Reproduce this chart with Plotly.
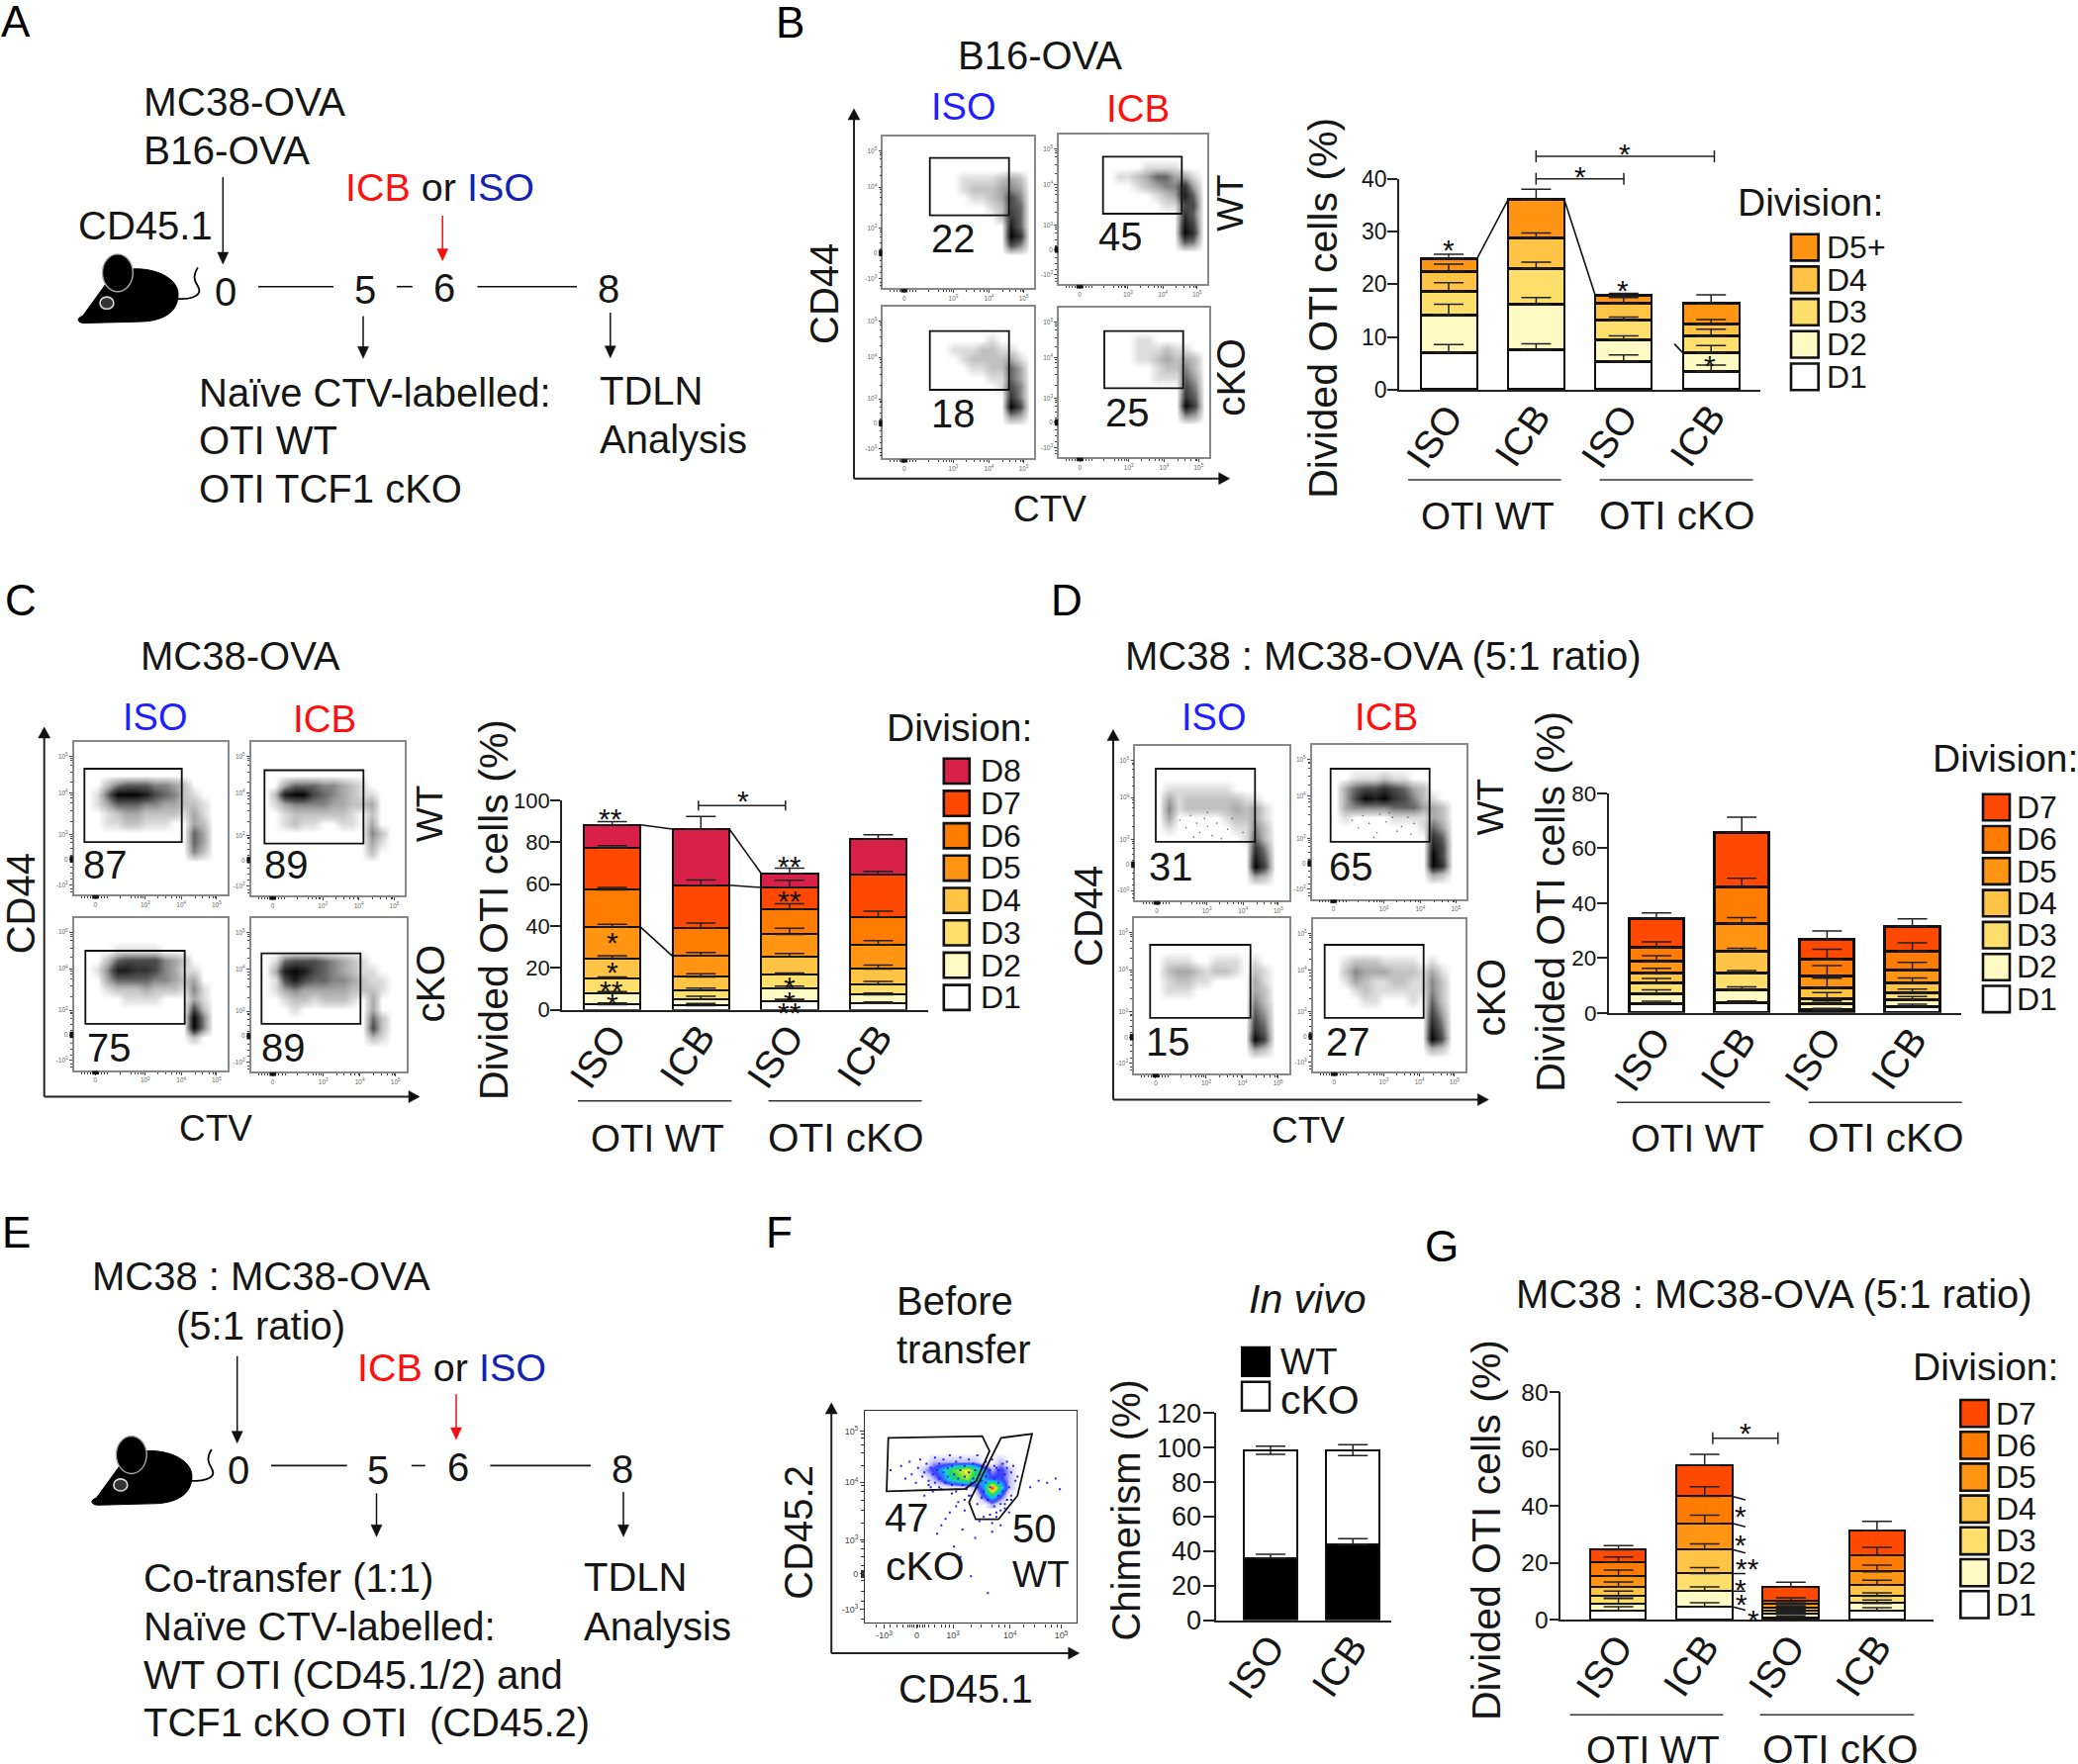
import plotly.graph_objects as go

W, H = 2100, 1783
FONT = "Liberation Sans"

# ---------- data: cumulative segment tops, D1 upward ----------
CONDITIONS = ["ISO", "ICB", "ISO", "ICB"]
POS4 = [0, 1, 2, 3]

B_DIV = ["D1", "D2", "D3", "D4", "D5+"]
B_TOPS = [[7.0, 14.2, 18.7, 22.4, 24.8],
          [7.5, 16.2, 23.0, 28.8, 36.0],
          [5.4, 9.5, 13.1, 16.3, 17.8],
          [3.5, 7.0, 10.1, 12.5, 16.3]]
B_ERR = [[8.6, 16.2, 20.3, 23.8, 25.7],
         [8.7, 17.5, 24.2, 29.7, 38.0],
         [6.6, 10.2, 13.8, 17.5, 18.3],
         [4.7, 8.4, 11.5, 13.3, 18.0]]

C_DIV = ["D1", "D2", "D3", "D4", "D5", "D6", "D7", "D8"]
C_TOPS = [[2.5, 7.9, 14.8, 24.6, 39.5, 57.3, 77.2, 88.3],
          [2.0, 4.9, 9.3, 15.7, 25.7, 39.2, 59.5, 86.3],
          [4.3, 10.1, 16.7, 25.4, 36.0, 47.9, 58.4, 65.2],
          [3.1, 7.2, 12.1, 19.5, 31.2, 44.4, 64.7, 81.6]]
C_ERR = [[3.3, 8.7, 15.7, 25.8, 40.8, 58.4, 78.4, 89.9],
         [3.0, 6.5, 10.4, 17.2, 27.4, 41.4, 62.0, 92.3],
         [5.0, 11.3, 17.6, 26.9, 39.0, 50.6, 61.9, 67.6],
         [3.8, 8.0, 13.5, 21.3, 33.1, 47.1, 66.1, 83.6]]

D_DIV = ["D1", "D2", "D3", "D4", "D5", "D6", "D7"]
D_TOPS = [[3.1, 7.0, 10.7, 14.3, 18.7, 23.7, 34.1],
          [3.5, 8.3, 14.3, 22.2, 32.6, 45.8, 65.7],
          [1.0, 3.1, 5.2, 9.1, 13.3, 19.3, 26.5],
          [2.2, 4.7, 7.2, 10.7, 15.6, 22.5, 31.4]]
D_ERR = [[4.2, 8.4, 12.5, 16.2, 20.8, 25.8, 36.4],
         [4.3, 9.4, 15.4, 23.5, 34.7, 49.0, 71.2],
         [1.6, 4.3, 7.4, 12.6, 17.2, 23.1, 29.8],
         [3.1, 5.9, 8.6, 12.7, 18.4, 25.5, 34.2]]

G_DIV = ["D1", "D2", "D3", "D4", "D5", "D6", "D7"]
G_TOPS = [[3.2, 5.7, 8.2, 11.5, 15.3, 20.2, 24.6],
          [4.6, 10.1, 16.3, 24.7, 33.9, 43.4, 54.3],
          [0.8, 2.0, 3.1, 4.3, 5.4, 6.6, 11.5],
          [3.2, 5.8, 8.3, 12.2, 16.9, 22.7, 31.4]]
G_ERR = [[4.6, 7.5, 10.1, 13.3, 17.5, 22.1, 26.1],
         [6.0, 11.6, 18.4, 26.7, 36.8, 46.8, 58.2],
         [1.4, 2.6, 3.7, 4.9, 6.0, 7.8, 13.2],
         [4.3, 7.0, 9.5, 13.9, 19.2, 25.5, 34.6]]

F_COND = ["ISO", "ICB"]
F_POS = [0, 1]
F_WT = [35.9, 44.0]
F_TOTAL = [98.4, 98.4]
F_WT_ERR_TOP = [38.2, 47.2]
F_TOTAL_ERR_TOP = [100.9, 101.7]
F_TOTAL_ERR_BOTTOM = [96.1, 95.4]

_0 = "0" * 16
FLOW_B = [
 [_0,_0,_0,_0,"0000000011112320","0000000012223430","0000000001123640","0000000000012650","0000000000002750","0000000000000850","0000000000000970","0000000000000640",_0,_0,_0,_0],
 [_0,_0,_0,"0000000001111000","0000001123553310","0000000012344730","0000000000123850","0000000000011660","0000000000000750","0000000000000860","0000000000000970","0000000000000540",_0,_0,_0,_0],
 [_0,_0,_0,"0000000000010000","0000000111221100","0000000012222310","0000000001122530","0000000000011530","0000000000001640","0000000000000740","0000000000000960","0000000000000430",_0,_0,_0,_0],
 [_0,_0,_0,"0000000011000000","0000000011121100","0000000011232320","0000000000122420","0000000000111530","0000000000000640","0000000000000750","0000000000000960","0000000000000430",_0,_0,_0,_0],
]
FLOW_C = [
 [_0,_0,_0,_0,"0002455544320000","0015999865421000","0013555443322100","0001233222213100","0001122111003200","0000000000005300","0000000000005300","0000000000004200",_0,_0,_0,_0],
 [_0,_0,_0,_0,"0003555443210000","0028996543211000","0013444433223000","0001222222102000","0001211001103000","0000000000004200","0000000000003100","0000000000002000",_0,_0,_0,_0],
 [_0,_0,_0,"0000111110000000","0002566664320000","0014887764311000","0003555544323000","0001222322214100","0000011110003100","0000000000006200","0000000000009400","0000000000009400","0000000000002000",_0,_0,_0],
 [_0,_0,_0,_0,"0015666543210000","0038986543211000","0016865544321100","0013433333222100","0001221222103000","0000100000003000","0000000000005200","0000000000006200","0000000000002100",_0,_0,_0],
]
FLOW_D = [
 [_0,_0,_0,_0,"0001111111000000","0003122222211000","0004122222323100","0003000001223100","0001000000114200","0000000000015200","0000000000007400","0000000000008500","0000000000009600","0000000000003200",_0,_0],
 [_0,_0,_0,"0000111211000000","0003566765320000","0003698976421000","0003444455533200","0001000011113200","0000000000015300","0000000000007500","0000000000008600","0000000000009600","0000000000009700","0000000000003200",_0,_0],
 [_0,_0,_0,_0,"0001110011101000","0002332122102100","0001221100003100","0001110000003200","0000000000004200","0000000000005300","0000000000006400","0000000000007500","0000000000009600","0000000000003200",_0,_0],
 [_0,_0,_0,_0,"0001222111101000","0002433322213100","0001321122114200","0000121111114200","0000011000105200","0000000000006300","0000000000007400","0000000000008500","0000000000009600","0000000000003200",_0,_0],
]
FLOW_B_PCT = ["22", "45", "18", "25"]
FLOW_C_PCT = ["87", "89", "75", "89"]
FLOW_D_PCT = ["31", "65", "15", "27"]
D1_SPECK_X = [.29,.33,.36,.40,.42,.45,.47,.50,.53,.56,.60,.63,.66,.70,.38,.47]
D1_SPECK_Y = [.52,.47,.55,.50,.44,.53,.48,.42,.50,.40,.46,.53,.38,.44,.41,.57]
D2_SPECK_X = [.26,.30,.33,.37,.42,.44,.48,.50,.55,.58,.62,.64,.66,.40,.52]
D2_SPECK_Y = [.51,.46,.54,.49,.43,.55,.50,.56,.44,.47,.53,.42,.49,.40,.53]

FLOW_F_GRID = ["0000000000000000", "0000111111001000", "0001235675312100", "0000124564322100",
               "0000000001394100", "0000000000242000", "0000000000010000"]
FLOW_F_X = [.12,.17,.19,.21,.22,.24,.25,.26,.27,.28,.29,.30,.31,.31,.32,.33,.33,.34,.35,.35,.36,.37,.37,.38,.39,.39,.40,.41,.41,.42,.43,.43,.44,.45,.45,.46,.47,.47,.48,.49,.49,.50,.51,.51,.52,.53,.53,.54,.55,.55,.56,.57,.57,.58,.59,.59,.60,.61,.61,.62,.63,.63,.64,.65,.65,.66,.67,.67,.68,.69,.69,.70,.71,.72,.66,.62,.56,.53,.50,.47,.44,.40,.36,.34,.38,.46,.52,.60,.64,.78,.82,.86,.90,.92,.42,.45,.50,.58,.28,.32,.43,.47,.54,.60,.62,.64,.66,.68,.30,.35,.41,.49,.55,.59,.63,.67,.69,.61,.57]
FLOW_F_Y = [.72,.74,.68,.76,.70,.66,.73,.77,.69,.71,.75,.67,.73,.64,.70,.78,.66,.72,.75,.68,.63,.71,.77,.66,.73,.69,.79,.65,.74,.70,.76,.62,.68,.72,.78,.65,.74,.69,.63,.77,.71,.66,.75,.68,.72,.64,.79,.70,.67,.74,.62,.76,.69,.58,.72,.64,.77,.55,.68,.73,.60,.66,.56,.75,.62,.70,.58,.76,.64,.71,.60,.74,.67,.69,.54,.52,.50,.56,.60,.58,.57,.52,.46,.42,.49,.44,.40,.47,.53,.64,.67,.66,.68,.63,.36,.31,.22,.14,.60,.62,.55,.53,.48,.43,.50,.46,.56,.52,.65,.64,.61,.60,.59,.51,.72,.73,.58,.74,.66]

# ---------- styles ----------
DIV_COLORS = {"D1": "#ffffff", "D2": "#fff9c4", "D3": "#ffdf6b", "D4": "#ffc445", "D5": "#ff9513",
              "D5+": "#ff9513", "D6": "#ff7c00", "D7": "#ff4800", "D8": "#d92049"}
BLUE, RED = "#1f1fff", "#ff1010"
DARKBLUE = "#1322b4"
TXT = 40
INK = "#161616"

fig = go.Figure()
shapes, anns = [], []
axis_no = [0]

def px(x): return x / W
def py(y): return 1 - y / H

def T(text, x, y, size=TXT, anchor="center", color=INK, angle=0, italic=False):
    anns.append(dict(text=f"<i>{text}</i>" if italic else text, x=px(x), y=py(y), xref="paper", yref="paper",
                     xanchor=anchor, yanchor="middle", showarrow=False, textangle=angle,
                     font=dict(family=FONT, size=size, color=color), borderpad=0))

def line(x0, y0, x1, y1, color="#111", w=1.6):
    shapes.append(dict(type="line", xref="paper", yref="paper", x0=px(x0), y0=py(y0), x1=px(x1), y1=py(y1),
                       line=dict(color=color, width=w)))

def poly(pts, color="#111", fill="rgba(0,0,0,0)", w=1.6, closed=True):
    d = "M" + " L".join(f"{px(a):.5f},{py(b):.5f}" for a, b in pts) + (" Z" if closed else "")
    shapes.append(dict(type="path", xref="paper", yref="paper", path=d, fillcolor=fill, line=dict(color=color, width=w)))

def rect(x0, y0, x1, y1, color="#111", fill="rgba(0,0,0,0)", w=1.8):
    shapes.append(dict(type="rect", xref="paper", yref="paper", x0=px(x0), y0=py(y0), x1=px(x1), y1=py(y1),
                       fillcolor=fill, line=dict(color=color, width=w)))

def arrow_down(x, y0, y1, color="#111"):
    line(x, y0, x, y1 - 10, color, 1.5)
    poly([(x - 5.5, y1 - 12), (x + 5.5, y1 - 12), (x, y1)], color=color, fill=color, w=0.5)

def flow_arrows(xa, ybottom, ytop, xright):
    line(xa, ybottom, xa, ytop + 8, "#222", 2)
    line(xa, ybottom, xright - 8, ybottom, "#222", 2)
    poly([(xa - 6, ytop + 11), (xa + 6, ytop + 11), (xa, ytop)], fill="#111", w=0.5)
    poly([(xright - 11, ybottom - 6), (xright - 11, ybottom + 6), (xright, ybottom)], fill="#111", w=0.5)

def new_axes(x0, y0, x1, y1, xa, ya):
    axis_no[0] += 1
    n = axis_no[0]
    s = "" if n == 1 else str(n)
    fig.layout[f"xaxis{s}"] = dict(domain=[px(x0), px(x1)], anchor=f"y{s}", **xa)
    fig.layout[f"yaxis{s}"] = dict(domain=[py(y1), py(y0)], anchor=f"x{s}", **ya)
    return f"x{s}", f"y{s}"

def star(x, y, s="*", size=30):
    T(s, x, y + 5.5, size=size, color="#111")

def bracket(x0, x1, y, cap=6):
    line(x0, y, x1, y, "#222", 1.5)
    line(x0, y - cap, x0, y + cap, "#222", 1.5)
    line(x1, y - cap, x1, y + cap, "#222", 1.5)

# ---------- stacked bar panels ----------
def bar_panel(tops, errs, divs, left, right, y0, ytop, ymax, dtick, c0, step, bw, tick_size, ecap=15):
    xr = [(left - c0) / step, (right - c0) / step]
    xa_, ya_ = new_axes(left, ytop, right, y0,
        dict(range=xr, tickmode="array", tickvals=POS4, ticktext=CONDITIONS, tickangle=-55, ticks="", ticklabelstandoff=-13,
             showgrid=False, zeroline=False, showline=True, linecolor="#222", linewidth=1.6,
             tickfont=dict(family=FONT, size=39, color=INK)),
        dict(range=[0, ymax], dtick=dtick, ticks="outside", ticklen=10, tickwidth=1.6, tickcolor="#222", ticklabelstandoff=-4,
             showgrid=False, zeroline=False, showline=True, linecolor="#222", linewidth=1.6,
             tickfont=dict(family=FONT, size=tick_size, color=INK)))
    for k, name in enumerate(divs):
        seg = [t[k] - (t[k - 1] if k else 0) for t in tops]
        fig.add_trace(go.Bar(x=POS4, y=seg, width=bw / step, name=name, xaxis=xa_, yaxis=ya_,
                             marker=dict(color=DIV_COLORS[name], line=dict(color="#111", width=2.4)),
                             hoverinfo="skip", showlegend=False))
    for k, name in enumerate(divs):
        fig.add_trace(go.Scatter(x=POS4, y=[t[k] for t in tops], mode="markers", xaxis=xa_, yaxis=ya_,
                                 marker=dict(size=1, opacity=0), hoverinfo="skip", showlegend=False,
                                 error_y=dict(type="data", symmetric=False, width=ecap, thickness=1.5, color="#222",
                                              array=[e[k] - t[k] for e, t in zip(errs, tops)],
                                              arrayminus=[0, 0, 0, 0])))
    return xa_, ya_, bw / step / 2

def connector(ax, x0, v0, x1, v1):
    fig.add_trace(go.Scatter(x=[x0, x1], y=[v0, v1], mode="lines", xaxis=ax[0], yaxis=ax[1],
                             line=dict(color="#111", width=1.6), hoverinfo="skip", showlegend=False))

def legend(divs, xs, ws, ytop_first, hs, pitch, xt, size=32):
    for i, name in enumerate(reversed(divs)):
        y = ytop_first + i * pitch
        rect(xs, y, xs + ws, y + hs, "#111", DIV_COLORS[name], 2.6)
        T(name, xt, y + hs / 2, size=size, anchor="left")

def groups(l1, l2, yl, t1, t2, yt):
    line(l1[0], yl, l1[1], yl, "#333", 1.6)
    line(l2[0], yl, l2[1], yl, "#333", 1.6)
    T("OTI WT", t1, yt, size=38.5)
    T("OTI cKO", t2, yt, size=40.5)

# ---------- flow plots ----------
FX_T = [.14, .465, .70, .93]
FX_L = ["0", "10<sup>3</sup>", "10<sup>4</sup>", "10<sup>5</sup>"]
FY_T = [.064, .232, .393, .666, .905]
FY_L = ["-10<sup>3</sup>", "0", "10<sup>3</sup>", "10<sup>4</sup>", "10<sup>5</sup>"]
FX_MINOR = [.05, .07, .09, .11, .125, .13, .135, .14, .145, .15, .155, .16, .18, .2, .22, .3, .37, .4, .42, .44, .45, .55, .6, .64, .67, .69, .79, .84, .88, .91, .92]
FY_MINOR = [.02, .04, .1, .14, .18, .215, .22, .225, .23, .235, .24, .245, .26, .3, .34, .37, .38, .48, .55, .6, .63, .65, .74, .8, .85, .88, .89]
GRAYS = [[0, "#ffffff"], [.11, "#dcdcdc"], [.33, "#a8a8a8"], [.6, "#585858"], [1, "#050505"]]

def flow_axes(box, color="#888", tick_size=6.5):
    a = dict(range=[0, 1], showgrid=False, zeroline=False, showline=True, mirror=True, linecolor=color, linewidth=1.5,
             ticks="outside", ticklen=3, tickwidth=1, tickcolor="#444", tickmode="array",
             tickfont=dict(family=FONT, size=tick_size, color="#666"))
    m = dict(ticks="outside", ticklen=2, tickwidth=0.8, tickcolor="#444")
    return new_axes(box[0], box[1], box[2], box[3],
                    dict(a, tickvals=FX_T, ticktext=FX_L, minor=dict(m, tickvals=FX_MINOR)),
                    dict(a, tickvals=FY_T, ticktext=FY_L, minor=dict(m, tickvals=FY_MINOR)))

def flow(grid, box, gate, pct, pct_xy, speck=None):
    xa_, ya_ = flow_axes(box)
    z = [[int(ch) for ch in row] for row in reversed(grid)]
    xs = [(c + .5) / 16 for c in range(16)]
    ys = [(r + .5) / 16 for r in range(16)]
    fig.add_trace(go.Heatmap(z=z, x=xs, y=ys, xaxis=xa_, yaxis=ya_, zmin=0, zmax=9, zsmooth="best", showscale=False,
                             colorscale=GRAYS, hoverinfo="skip"))
    if speck:
        fig.add_trace(go.Scatter(x=speck[0], y=speck[1], mode="markers", xaxis=xa_, yaxis=ya_, hoverinfo="skip", showlegend=False,
                                 marker=dict(size=1.6, color="#666", line=dict(width=0))))
    rect(*gate)
    # dense event clusters on the axes at zero
    y_zero = box[3] - .232 * (box[3] - box[1])
    x_zero = box[0] + .14 * (box[2] - box[0])
    rect(box[0] - 4, y_zero - 3, box[0] - 1, y_zero + 3, "#111", "#111", .5)
    rect(x_zero - 3, box[3] + 1, x_zero + 3, box[3] + 4, "#111", "#111", .5)
    T(pct, pct_xy[0], pct_xy[1], size=40)

# Panel B flow
B_BOX = [(892.3, 137.7, 1045.3, 291.3), (1070, 136.3, 1220.3, 287.3), (892.3, 310, 1045.3, 463.3), (1070, 311, 1222, 462)]
B_GATE = [(939.7, 159.7, 1019.7, 217.7), (1114.7, 158.3, 1194.3, 216), (939.7, 334.7, 1019.7, 394), (1116, 334.7, 1195.7, 392.3)]
B_PXY = [(963, 240.7), (1132.7, 239), (963, 417.7), (1139, 416.7)]
for g, b, r, p, xy in zip(FLOW_B, B_BOX, B_GATE, FLOW_B_PCT, B_PXY):
    flow(g, b, r, p, xy)
flow_arrows(863, 483.7, 110, 1242.7)
T("ISO", 973.3, 108.3, color=BLUE, size=38); T("ICB", 1150, 109.3, color=RED, size=38.5)
T("WT", 1244, 205, angle=-90, size=37); T("cKO", 1244, 381.7, angle=-90, size=40.5)
T("CD44", 833, 297, angle=-90); T("CTV", 1061, 514, size=37)
T("B16-OVA", 1051, 56)

# Panel C flow
C_BOX = [(74.7, 749.9, 229.7, 904.2), (253.7, 749.9, 409.3, 905.3), (74.7, 927.5, 229.7, 1081.8), (253.7, 927.5, 410.7, 1083.3)]
C_GATE = [(85.3, 777, 183.7, 851.2), (267.3, 778.5, 367.3, 852.7), (86.3, 961, 186.7, 1034.8), (264.3, 963.7, 364.3, 1034.8)]
C_PXY = [(106, 874.1), (289.3, 874.1), (110, 1058.5), (286.7, 1058.5)]
for g, b, r, p, xy in zip(FLOW_C, C_BOX, C_GATE, FLOW_C_PCT, C_PXY):
    flow(g, b, r, p, xy)
flow_arrows(44.7, 1108.5, 734.9, 424)
T("ISO", 156.7, 724.7, color=BLUE, size=38); T("ICB", 328, 726.2, color=RED, size=38.5)
T("WT", 434, 822.2, angle=-90, size=37); T("cKO", 434, 994.5, angle=-90, size=40.5)
T("CD44", 20.7, 913.6, angle=-90); T("CTV", 218, 1140.1, size=37)
T("MC38-OVA", 243, 663.4)

# Panel D flow
D_BOX = [(1147.3, 754, 1302.7, 910.2), (1325.7, 752.9, 1482.3, 908.7), (1146, 927.5, 1302.7, 1084.8), (1326.7, 929, 1480.7, 1083.3)]
D_GATE = [(1168, 777, 1268.3, 850.8), (1344.7, 777, 1444.7, 850.8), (1162.3, 955, 1263.7, 1028.8), (1338.7, 955, 1438.7, 1028.8)]
D_PXY = [(1183.3, 876), (1365, 876), (1180, 1052.8), (1362.7, 1052.8)]
D_SPECK = [(D1_SPECK_X, D1_SPECK_Y), (D2_SPECK_X, D2_SPECK_Y), None, None]
for g, b, r, p, xy, sp in zip(FLOW_D, D_BOX, D_GATE, FLOW_D_PCT, D_PXY, D_SPECK):
    flow(g, b, r, p, xy, sp)
flow_arrows(1125, 1111.5, 737.5, 1504.3)
T("ISO", 1226, 724.7, color=BLUE, size=38); T("ICB", 1401, 724.7, color=RED, size=38.5)
T("WT", 1506.7, 815.8, angle=-90, size=37); T("cKO", 1506.7, 1007.7, angle=-90, size=40.5)
T("CD44", 1100, 926, angle=-90); T("CTV", 1321.7, 1142, size=37)
T("MC38 : MC38-OVA (5:1 ratio)", 1398, 663.4)

# ---------- Panel B bars ----------
ax = bar_panel(B_TOPS, B_ERR, B_DIV, 1413.9, 1778.8, 394, 180.7, 40, 10, 1464, 88.4, 57, 23)
hw = ax[2]
connector(ax, 0 + hw, B_TOPS[0][4], 1 - hw, B_TOPS[1][4])
connector(ax, 1 + hw, B_TOPS[1][4], 2 - hw, B_TOPS[2][4])
connector(ax, 2.58, 8.7, 3 - hw, B_TOPS[3][1])
T("Divided OTI cells (%)", 1336.8, 311, angle=-90, size=41)
bracket(1552.3, 1641, 180.7); bracket(1552.3, 1732.5, 158)
star(1642, 150); star(1596.5, 172.7); star(1464, 247); star(1640, 288.3); star(1728.3, 364)
T("Division:", 1829, 205, size=39)
legend(B_DIV, 1810, 27.7, 236.7, 26.7, 32.7, 1845)
groups((1423, 1577.6), (1616.7, 1771.6), 485, 1503, 1694.6, 521)

# ---------- Panel C bars ----------
ax = bar_panel(C_TOPS, C_ERR, C_DIV, 568, 938, 1020.7, 809, 100, 20, 618.7, 89.6, 57.5, 22)
hw = ax[2]
connector(ax, 0 + hw, C_TOPS[0][7], 1 - hw, C_TOPS[1][7])
connector(ax, 1 + hw, C_TOPS[1][7], 2 - hw, C_TOPS[2][7])
connector(ax, 0 + hw, C_TOPS[0][4], 1 - hw, C_TOPS[1][4])
connector(ax, 1 + hw, C_TOPS[1][6], 2 - hw, C_TOPS[2][6])
T("Divided OTI cells (%)", 499, 920, angle=-90, size=41)
bracket(705.8, 793.8, 814.3, 5)
star(750.6, 804)
for sx, sy, s in [(617, 822.3, "**"), (619, 946.7, "*"), (619, 977.3, "*"), (617.8, 995.7, "**"), (618.5, 1008.7, "*"),
                  (797.6, 870, "**"), (797.6, 905, "**"), (797.6, 991.7, "*"), (797.6, 1006.7, "*"), (797.6, 1017.7, "**")]:
    star(sx, sy, s)
T("Division:", 969.9, 735, size=39)
legend(C_DIV, 953.8, 26, 766.7, 25.3, 32.7, 989.8)
groups((584, 739.5), (776.6, 931.6), 1112.7, 664.8, 855, 1150)

# ---------- Panel D bars ----------
ax = bar_panel(D_TOPS, D_ERR, D_DIV, 1625.7, 1982, 1023.7, 801.7, 80, 20, 1674, 86.2, 55.5, 22.5)
T("Divided OTI cells (%)", 1566.8, 911, angle=-90, size=41)
T("Division:", 1952.4, 766.7, size=39, anchor="left")
legend(D_DIV, 2004, 27, 802.7, 26.6, 32.3, 2037)
groups((1634, 1788.8), (1827.7, 1982.7), 1114.3, 1715, 1906, 1150)

# ---------- Panel G bars ----------
ax = bar_panel(G_TOPS, G_ERR, G_DIV, 1577.3, 1954.4, 1637.3, 1407.3, 80, 20, 1635.6, 87.1, 56.2, 24.5)
hw = ax[2]
for k in [5, 4, 3, 0]:
    connector(ax, 1 + hw, G_TOPS[1][k], 1 + hw + .15, G_TOPS[1][k] - 1.2)
for k in [2, 1]:
    connector(ax, 1 + hw, G_TOPS[1][k], 1 + hw + .15, G_TOPS[1][k])
T("Divided OTI cells (%)", 1502, 1547, angle=-90, size=41)
bracket(1730.9, 1796.8, 1453.7)
star(1763.9, 1443.3)
for sx, sy, s in [(1758.6, 1527.3, "*"), (1758.6, 1555.7, "*"), (1765.5, 1580, "**"), (1758.6, 1600.7, "*"),
                  (1760.2, 1615.7, "*"), (1771.5, 1631.7, "*")]:
    star(sx, sy, s)
T("MC38 : MC38-OVA (5:1 ratio)", 1793, 1308)
T("Division:", 1931.5, 1381.7, size=39, anchor="left")
legend(G_DIV, 1981.3, 28.2, 1415, 27.3, 32.2, 2016)
groups((1586.6, 1741.4), (1778.7, 1934.3), 1733.3, 1670, 1860, 1768)

# ---------- Panel F flow ----------
F_BOX = (874.3, 1426, 1088.2, 1640.3)
xa_, ya_ = new_axes(F_BOX[0], F_BOX[1], F_BOX[2], F_BOX[3],
    dict(range=[0, 1], showgrid=False, zeroline=False, showline=True, mirror=True, linecolor="#333", linewidth=1.4,
         ticks="outside", ticklen=4, tickwidth=1, tickcolor="#333", tickmode="array",
         tickvals=[.09, .244, .415, .685, .927], ticktext=["-10<sup>3</sup>", "0", "10<sup>3</sup>", "10<sup>4</sup>", "10<sup>5</sup>"],
         minor=dict(ticks="outside", ticklen=3, tickwidth=.8, tickcolor="#333", tickvals=[.05, .12, .15, .18, .2, .21, .22, .23, .25, .26, .27, .28, .3, .33, .36, .38, .4, .5, .55, .6, .63, .66, .75, .8, .85, .88, .91]),
         tickfont=dict(family=FONT, size=9, color="#444")),
    dict(range=[0, 1], showgrid=False, zeroline=False, showline=True, mirror=True, linecolor="#333", linewidth=1.4,
         ticks="outside", ticklen=4, tickwidth=1, tickcolor="#333", tickmode="array",
         tickvals=[.064, .232, .391, .663, .904], ticktext=["-10<sup>3</sup>", "0", "10<sup>3</sup>", "10<sup>4</sup>", "10<sup>5</sup>"],
         minor=dict(ticks="outside", ticklen=3, tickwidth=.8, tickcolor="#333", tickvals=[.02, .1, .15, .2, .215, .22, .225, .23, .235, .24, .245, .27, .31, .35, .38, .47, .53, .58, .62, .65, .74, .8, .84, .87, .89]),
         tickfont=dict(family=FONT, size=9, color="#444")))
fig.add_trace(go.Heatmap(z=[[int(c) for c in r] for r in reversed(FLOW_F_GRID)],
                         x=[.16 + .04 * c for c in range(16)], y=[.56 + .04 * r for r in range(7)],
                         xaxis=xa_, yaxis=ya_, zmin=0, zmax=9, zsmooth="best", showscale=False, hoverinfo="skip",
                         colorscale=[[0, "#ffffff"], [.1, "#c4c4ff"], [.2, "#3a3aff"], [.38, "#12c8f0"], [.55, "#20dc50"],
                                     [.75, "#f4f020"], [1, "#f81a00"]]))
fig.add_trace(go.Scatter(x=FLOW_F_X, y=FLOW_F_Y, mode="markers", xaxis=xa_, yaxis=ya_, hoverinfo="skip", showlegend=False,
                         marker=dict(size=2, symbol="square", color="#2020f0", line=dict(width=0))))
poly([(897.7, 1453.3), (992.7, 1451.7), (1000, 1466.7), (986.7, 1496.7), (975, 1505), (896, 1507.3)], w=1.8)
poly([(1011.7, 1453.3), (1043, 1449.3), (1028.3, 1511.7), (1009, 1535.7), (986, 1535.7), (979.3, 1518.3)], w=1.8)
flow_arrows(840.2, 1671, 1418, 1090.7)
T("47", 916.8, 1534); T("cKO", 935, 1582.7, size=41); T("50", 1045.2, 1545); T("WT", 1051.5, 1591.7, size=37)
T("CD45.2", 807.4, 1548.3, angle=-90); T("CD45.1", 975.8, 1707.3)
T("Before", 905, 1315, anchor="left"); T("transfer", 905, 1364, anchor="left")

# ---------- Panel F chimerism ----------
F_left, F_right, F_y0, F_ytop, F_c0, F_step, F_bw = 1229.2, 1406, 1637.7, 1428.3, 1284, 83.2, 54.5
xa_, ya_ = new_axes(F_left, F_ytop, F_right, F_y0,
    dict(range=[(F_left - F_c0) / F_step, (F_right - F_c0) / F_step], tickmode="array", tickvals=F_POS, ticktext=F_COND,
         tickangle=-55, ticks="", ticklabelstandoff=-13, showgrid=False, zeroline=False, showline=True, linecolor="#222", linewidth=1.6,
         tickfont=dict(family=FONT, size=39, color=INK)),
    dict(range=[0, 120], dtick=20, ticks="outside", ticklen=11, tickwidth=1.6, tickcolor="#222", showgrid=False, ticklabelstandoff=-3,
         zeroline=False, showline=True, linecolor="#222", linewidth=1.6, tickfont=dict(family=FONT, size=27, color=INK)))
fig.add_trace(go.Bar(x=F_POS, y=F_WT, width=F_bw / F_step, xaxis=xa_, yaxis=ya_, hoverinfo="skip", showlegend=False,
                     marker=dict(color="#000000", line=dict(color="#111", width=2.4))))
fig.add_trace(go.Bar(x=F_POS, y=[t - w for t, w in zip(F_TOTAL, F_WT)], width=F_bw / F_step, xaxis=xa_, yaxis=ya_,
                     hoverinfo="skip", showlegend=False, marker=dict(color="#ffffff", line=dict(color="#111", width=2.4))))
fig.add_trace(go.Scatter(x=F_POS, y=F_WT, mode="markers", xaxis=xa_, yaxis=ya_, marker=dict(size=1, opacity=0), hoverinfo="skip", showlegend=False,
                         error_y=dict(type="data", symmetric=False, width=15, thickness=1.5, color="#222",
                                      array=[e - v for e, v in zip(F_WT_ERR_TOP, F_WT)], arrayminus=[0, 0])))
fig.add_trace(go.Scatter(x=F_POS, y=F_TOTAL, mode="markers", xaxis=xa_, yaxis=ya_, marker=dict(size=1, opacity=0), hoverinfo="skip", showlegend=False,
                         error_y=dict(type="data", symmetric=False, width=15, thickness=1.5, color="#222",
                                      array=[e - v for e, v in zip(F_TOTAL_ERR_TOP, F_TOTAL)],
                                      arrayminus=[v - e for e, v in zip(F_TOTAL_ERR_BOTTOM, F_TOTAL)])))
T("Chimerism (%)", 1137.9, 1526.7, angle=-90)
T("In vivo", 1321, 1313.3, italic=True, size=41)
rect(1255, 1361.7, 1283, 1391, "#000", "#000", 2)
rect(1255, 1396.7, 1283, 1425.7, "#111", "#fff", 2.4)
T("WT", 1292.8, 1376.7, size=37, anchor="left"); T("cKO", 1292.8, 1415, size=41, anchor="left")

# ---------- schematics ----------
def mouse(dx, dy):
    m = lambda a, b: (a * .4974 + dx, b * .338 + dy)
    def P(a, b):
        q = m(a, b)
        return f"{px(q[0]):.5f},{py(q[1]):.5f}"
    body = (f"M{P(168, 945)} L{P(232, 815)} C{P(290, 785)} {P(362, 820)} {P(362, 880)} C{P(362, 935)} {P(330, 962)} {P(280, 962)} "
            f"L{P(175, 966)} C{P(155, 968)} {P(155, 950)} {P(168, 945)} Z")
    shapes.append(dict(type="path", xref="paper", yref="paper", path=body, fillcolor="#000", line=dict(color="#000", width=1)))
    tail = f"M{P(358, 893)} C{P(385, 898)} {P(405, 885)} {P(405, 870)} C{P(405, 850)} {P(385, 840)} {P(402, 800)}"
    shapes.append(dict(type="path", xref="paper", yref="paper", path=tail, line=dict(color="#000", width=1.8)))
    e0, e1 = m(208, 760), m(270, 872)
    shapes.append(dict(type="circle", xref="paper", yref="paper", x0=px(e0[0]), x1=px(e1[0]), y0=py(e0[1]), y1=py(e1[1]),
                       fillcolor="#000", line=dict(color="#aaa", width=1.4)))
    e0, e1 = m(203, 888), m(231, 924)
    shapes.append(dict(type="circle", xref="paper", yref="paper", x0=px(e0[0]), x1=px(e1[0]), y0=py(e0[1]), y1=py(e1[1]),
                       fillcolor="#333", line=dict(color="#ddd", width=1.6)))

def icb_or_iso(x, y):
    T(f'<span style="color:{RED}">ICB</span> or <span style="color:{DARKBLUE}">ISO</span>', x, y, anchor="left", size=39.5)

# Panel A
mouse(0, 0)
T("MC38-OVA", 144, 103, anchor="left", size=40.5); T("B16-OVA", 144, 152, anchor="left", size=40.5)
icb_or_iso(348, 189.3)
T("CD45.1", 146.7, 227.5)
for s, x, y in [("0", 227.8, 295), ("5", 368.6, 293.4), ("6", 449, 290.7), ("8", 615.3, 292.4)]:
    T(s, x, y)
line(261, 289.7, 337, 289.7); line(401, 289.7, 416.8, 289.7); line(482.5, 289.7, 583, 289.7)
arrow_down(225.3, 179.1, 267); arrow_down(447.2, 218, 263.6, "#f01010"); arrow_down(367, 319.4, 362.3); arrow_down(616.8, 316, 361.7)
T("Naïve CTV-labelled:", 200, 397.2, anchor="left"); T("OTI WT", 200, 445.1, anchor="left")
T("OTI TCF1 cKO", 200, 494.2, anchor="left")
T("TDLN", 605, 395.5, anchor="left"); T("Analysis", 605, 444.5, anchor="left")

# Panel E
mouse(13.9, 1194.7)
T("MC38 : MC38-OVA", 263.6, 1290); T("(5:1 ratio)", 263.6, 1340.3)
icb_or_iso(360, 1381.6)
for s, x, y in [("0", 241, 1485.7), ("5", 382, 1485.7), ("6", 462.6, 1483), ("8", 629, 1485)]:
    T(s, x, y)
line(274, 1481.4, 350.7, 1481.4); line(415.8, 1481.4, 429.7, 1481.4); line(495.4, 1481.4, 596.9, 1481.4)
arrow_down(239.7, 1370.8, 1458.7); arrow_down(461, 1409.2, 1455.1, "#f01010"); arrow_down(380.5, 1509.4, 1553.2); arrow_down(630, 1507.9, 1553.2)
for s, y in [("Co-transfer (1:1)", 1595.2), ("Naïve CTV-labelled:", 1644.3), ("WT OTI (CD45.1/2) and", 1693.2), ("TCF1 cKO OTI  (CD45.2)", 1740.6)]:
    T(s, 144, y, anchor="left")
T("TDLN", 589, 1594, anchor="left"); T("Analysis", 589, 1644.3, anchor="left")

# Panel letters
for s, x, y in [("A", 16.4, 21), ("B", 798, 22), ("C", 20.7, 606.7), ("D", 1078, 606.7), ("E", 16.4, 1245.8), ("F", 787, 1245), ("G", 1457, 1259)]:
    T(s, x, y, size=44, color="#000")

fig.update_layout(width=W, height=H, margin=dict(l=0, r=0, t=0, b=0, autoexpand=False), autosize=False, barmode="stack", bargap=0,
                  paper_bgcolor="#ffffff", plot_bgcolor="rgba(0,0,0,0)", showlegend=False, shapes=shapes, annotations=anns,
                  font=dict(family=FONT), hovermode=False)
fig.write_html("out.html", config=dict(displayModeBar=False), post_script="document.body.style.margin='0';")
